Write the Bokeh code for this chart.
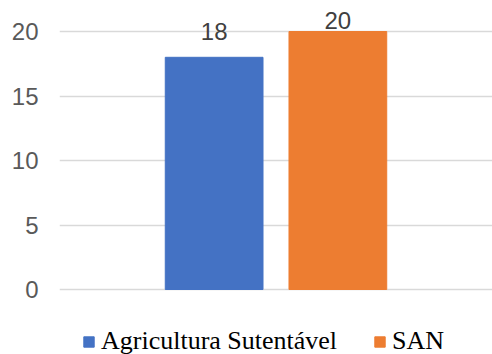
import numpy as np
from bokeh.plotting import figure
from bokeh.models import (FactorRange, Range1d, FixedTicker, ColumnDataSource,
                          Legend, LegendItem)
from bokeh.core.properties import value
from bokeh.embed import file_html
from bokeh.resources import INLINE

series = ["Agricultura Sutentável", "SAN"]
values = [18, 20]
colors = ["#4472C4", "#ED7D31"]
y_ticks = [0, 5, 10, 15, 20]

px_per_unit = (289 - 31) / 20.0
label_y = np.minimum(np.array(values) + 26 / px_per_unit, 20 + 11 / px_per_unit)

src = ColumnDataSource(dict(x=series, top=values, color=colors,
                            ly=label_y, txt=[str(v) for v in values]))

p = figure(width=492, height=354, output_backend="svg", toolbar_location=None,
           x_range=FactorRange(factors=series, range_padding=0.75),
           y_range=Range1d(-(354 - 289) / px_per_unit, 20 + 31 / px_per_unit),
           x_axis_location=None,
           min_border_left=59, min_border_right=0, min_border_top=0, min_border_bottom=0)
p.outline_line_color = None

r = p.vbar(x="x", top="top", width=0.79, color="color", source=src)

p.text(x="x", y="ly", text="txt", source=src, text_align="center",
       text_baseline="middle", text_font=value("Liberation Sans"),
       text_font_size=value("24px"), text_color="#404040")

ax = p.yaxis[0]
ax.ticker = FixedTicker(ticks=y_ticks)
ax.axis_line_color = None
ax.major_tick_line_color = None
ax.minor_tick_line_color = None
ax.major_tick_out = 0
ax.major_tick_in = 0
ax.major_label_standoff = 21
ax.major_label_text_font = "Liberation Sans"
ax.major_label_text_font_size = "24px"
ax.major_label_text_color = "#595959"

p.xgrid.visible = False
p.ygrid.ticker = FixedTicker(ticks=y_ticks)
p.ygrid.grid_line_color = "#D9D9D9"
p.ygrid.grid_line_width = 1.3

legend = Legend(items=[LegendItem(label=series[i], renderers=[r], index=i) for i in range(len(series))],
                location=(23, -2), orientation="horizontal",
                label_text_font="Liberation Serif", label_text_font_size="26px",
                label_text_color="black", glyph_width=13, glyph_height=13,
                spacing=36, label_standoff=6, padding=0, margin=0,
                border_line_color=None, background_fill_alpha=0)
p.add_layout(legend)

open("out.html", "w").write(file_html(p, INLINE))
